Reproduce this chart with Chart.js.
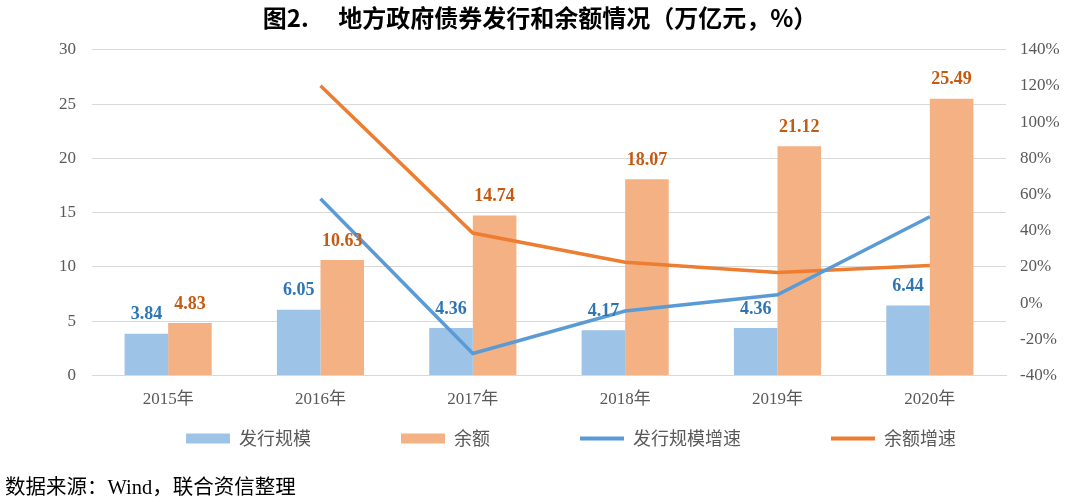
<!DOCTYPE html>
<html lang="zh">
<head>
<meta charset="UTF-8">
<title>地方政府债券发行和余额情况</title>
<script src="https://cdn.jsdelivr.net/npm/chart.js"></script>
<style>
  html, body { margin: 0; padding: 0; background: #fff; }
  #wrap { width: 1080px; height: 502px; }
</style>
</head>
<body>
<div id="wrap"><canvas id="bondChart"></canvas></div>
<script>
// data
const years = ["2015年", "2016年", "2017年", "2018年", "2019年", "2020年"];
const issueSize = [3.84, 6.05, 4.36, 4.17, 4.36, 6.44];        // 发行规模 (万亿元)
const balance = [4.83, 10.63, 14.74, 18.07, 21.12, 25.49];       // 余额 (万亿元)
const issueGrowth = [null, 57.6, -27.9, -4.4, 4.6, 47.7];        // 发行规模增速 (%)
const balanceGrowth = [null, 120.1, 38.7, 22.6, 16.9, 20.7];     // 余额增速 (%)

const serif = "'Liberation Serif', 'Times New Roman', 'Noto Sans CJK SC', serif";
const cjk = "'Noto Sans CJK SC', 'Noto Sans', sans-serif";
const gap = "\u3000\u3000\u3000\u3000";

// value labels above the bars
const barLabels = {
  id: "barLabels",
  afterDatasetsDraw(chart) {
    const ctx = chart.ctx;
    ctx.save();
    ctx.font = "bold 18px " + serif;
    ctx.textAlign = "center";
    ctx.textBaseline = "middle";
    chart.data.datasets.forEach((ds, i) => {
      if (ds.type !== "bar") return;
      const meta = chart.getDatasetMeta(i);
      ctx.fillStyle = ds.labelColor;
      meta.data.forEach((bar, j) => {
        ctx.fillText(ds.data[j].toFixed(2), bar.x, bar.y - 19);
      });
    });
    ctx.restore();
  }
};

// the legend in the picture sits a bit right of centre
const legendShift = {
  id: "legendShift",
  afterLayout(chart) {
    if (chart.legend) chart.legend.left += 62;
  }
};

new Chart(document.getElementById("bondChart"), {
  data: {
    labels: years,
    datasets: [
      {
        type: "bar", label: "发行规模" + gap, data: issueSize,
        backgroundColor: "#9DC3E6", labelColor: "#2E75B6",
        yAxisID: "y", order: 2, categoryPercentage: 0.572, barPercentage: 1
      },
      {
        type: "bar", label: "余额" + gap, data: balance,
        backgroundColor: "#F4B183", labelColor: "#C55A11",
        yAxisID: "y", order: 2, categoryPercentage: 0.572, barPercentage: 1
      },
      {
        type: "line", label: "发行规模增速" + gap, data: issueGrowth,
        borderColor: "#5B9BD5", backgroundColor: "#5B9BD5", borderWidth: 3.5,
        pointRadius: 0, tension: 0, yAxisID: "y1", order: 1
      },
      {
        type: "line", label: "余额增速", data: balanceGrowth,
        borderColor: "#ED7D31", backgroundColor: "#ED7D31", borderWidth: 3.5,
        pointRadius: 0, tension: 0, yAxisID: "y1", order: 1
      }
    ]
  },
  options: {
    responsive: true,
    maintainAspectRatio: false,
    animation: false,
    layout: { padding: { left: 5, right: 5, top: 0, bottom: 0 } },
    plugins: {
      title: {
        display: true,
        text: "图2.\u3000 地方政府债券发行和余额情况（万亿元，%）",
        color: "#000",
        font: { family: cjk, size: 24, weight: "bold" },
        padding: { top: 3, bottom: 18 }
      },
      subtitle: {
        display: true,
        position: "bottom",
        align: "start",
        text: "数据来源：Wind，联合资信整理",
        color: "#000",
        font: { family: serif, size: 20.5 },
        padding: { top: 19, bottom: 1 }
      },
      legend: {
        position: "bottom",
        labels: {
          color: "#595959",
          font: { family: cjk, size: 18 },
          padding: 18,
          boxWidth: 44,
          boxHeight: 10,
          usePointStyle: true,
          pointStyleWidth: 44,
          generateLabels(chart) {
            return chart.data.datasets.map((ds, i) => ({
              text: ds.label,
              datasetIndex: i,
              fillStyle: ds.type === "bar" ? ds.backgroundColor : "transparent",
              strokeStyle: ds.type === "bar" ? ds.backgroundColor : ds.borderColor,
              lineWidth: ds.type === "bar" ? 0 : 4,
              pointStyle: ds.type === "bar" ? "rect" : "line",
              fontColor: "#595959",
              hidden: false
            }));
          }
        }
      },
      tooltip: { enabled: false }
    },
    scales: {
      x: {
        grid: { display: false, drawTicks: false },
        border: { display: true, color: "#D9D9D9", width: 1 },
        ticks: { color: "#595959", font: { family: serif, size: 17 }, padding: 14 },
        afterFit(scale) { scale.height = 36; }
      },
      y: {
        position: "left",
        min: 0, max: 30,
        ticks: { stepSize: 5, color: "#595959", font: { family: serif, size: 17 }, padding: 16 },
        grid: { color: "#D9D9D9", lineWidth: 1, drawTicks: false },
        border: { display: false },
        afterFit(scale) { scale.width = 87; }
      },
      y1: {
        position: "right",
        min: -40, max: 140,
        ticks: {
          stepSize: 20, color: "#595959", font: { family: serif, size: 17 }, padding: 14,
          callback: v => v + "%"
        },
        grid: { display: false, drawTicks: false },
        border: { display: false },
        afterFit(scale) { scale.width = 69; }
      }
    }
  },
  plugins: [barLabels, legendShift]
});
</script>
</body>
</html>
